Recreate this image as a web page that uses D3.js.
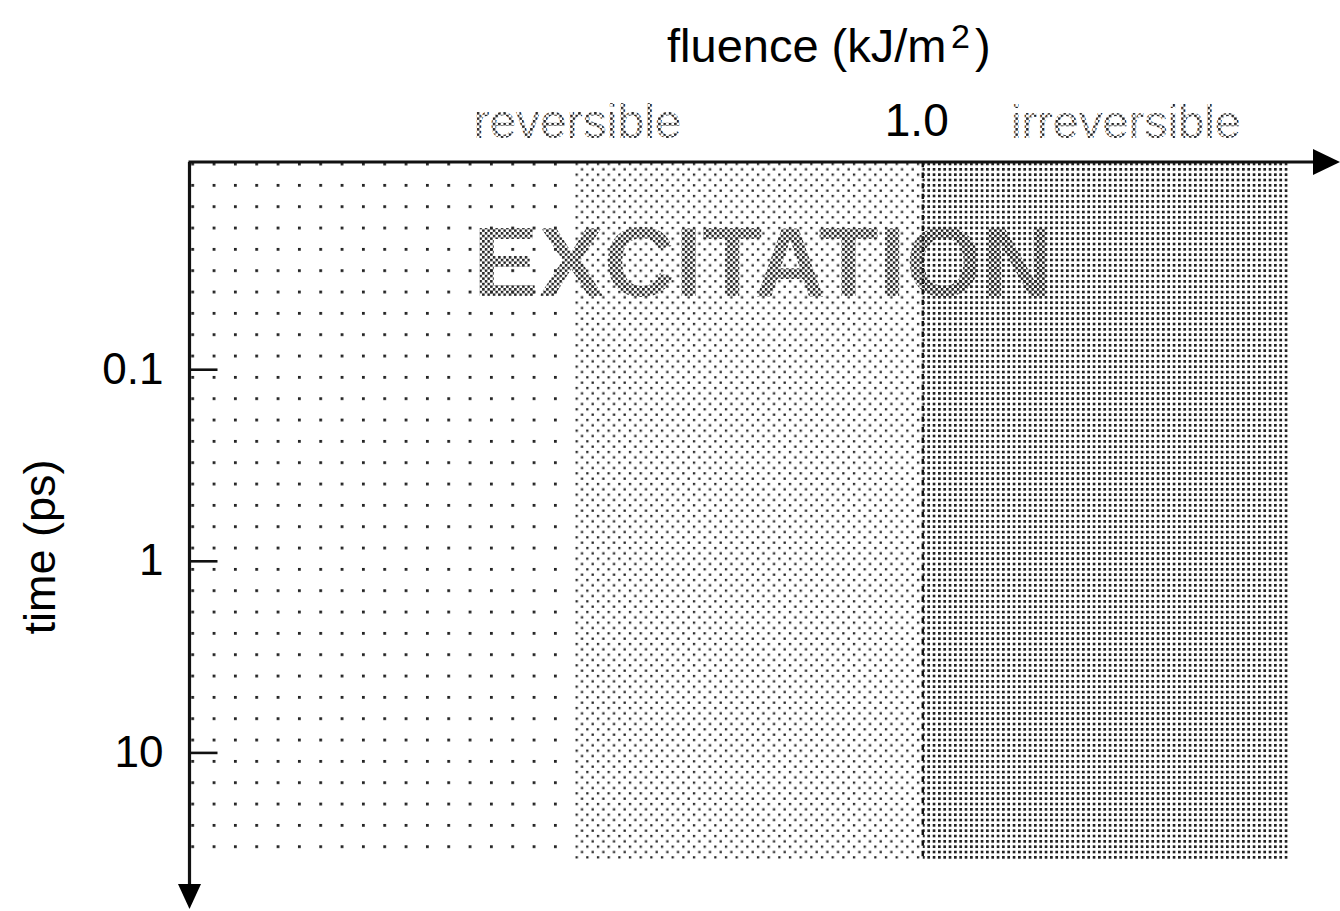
<!DOCTYPE html>
<html>
<head>
<meta charset="utf-8">
<script src="https://cdn.jsdelivr.net/npm/d3@7"></script>
<style>
  html, body { margin: 0; padding: 0; background: #ffffff; }
  svg { display: block; }
  text { font-family: "Liberation Sans", Arial, Helvetica, sans-serif; }
</style>
</head>
<body>
<svg id="chart" width="1340" height="911"></svg>
<script>
// ---- data ----
const timeTicks = [0.1, 1, 10];              // ps
const timeExtent = [0.00829, 36.0];          // ps, shaded area top..bottom
const fluenceExtent = [0, 1.569];            // kJ/m^2, axis start..arrow tip
const zoneEdges = [0, 0.525, 1.0, 1.5];      // kJ/m^2
const zoneNames = ["low", "reversible", "irreversible"];
const thresholdFluence = 1.0;
const thresholdLabel = "1.0";
const regimeLabels = ["reversible", "irreversible"];
const xTitleParts = ["fluence (kJ/m", "2", ")"];
const yTitle = "time (ps)";
const bannerText = "EXCITATION";

// ---- drawing ----
const svg = d3.select("#chart");
const W = 1340, H = 911;
svg.append("rect").attr("width", W).attr("height", H).attr("fill", "#fff");

const x = d3.scaleLinear().domain(fluenceExtent).range([189.5, 1340]);
const y = d3.scaleLog().domain(timeExtent).range([162, 859]);

const defs = svg.append("defs");
const P = 10.667 / 2;   // base lattice step
const ox = 576.7, oy = 164; // a lattice dot centre
function lattice(id, period, offsets, size, color) {
  const pat = defs.append("pattern")
    .attr("id", id)
    .attr("patternUnits", "userSpaceOnUse")
    .attr("x", ox - size / 2).attr("y", oy - size / 2)
    .attr("width", period).attr("height", period);
  offsets.forEach(([dx, dy]) => {
    pat.append("rect").attr("x", dx).attr("y", dy)
      .attr("width", size).attr("height", size).attr("fill", color);
  });
}
lattice("pat0", 4 * P, [[0, 0]], 2.8, "#222");
lattice("pat1", 2 * P, [[0, 0], [P, P]], 2.3, "#2a2a2a");
lattice("pat2", P, [[0, 0]], 2.7, "#222");
lattice("patText", P, [[0, 0], [P / 2, P / 2]], 2.5, "#222");

// shaded regimes
const zones = zoneNames.map((n, i) => ({ name: n, x0: zoneEdges[i], x1: zoneEdges[i + 1], i }));
svg.append("g").selectAll("rect").data(zones).join("rect")
  .attr("x", d => x(d.x0))
  .attr("y", y(timeExtent[0]))
  .attr("width", d => x(d.x1) - x(d.x0))
  .attr("height", y(timeExtent[1]) - y(timeExtent[0]))
  .attr("fill", d => `url(#pat${d.i})`);

// threshold dashed line
svg.append("line")
  .attr("x1", x(thresholdFluence)).attr("x2", x(thresholdFluence))
  .attr("y1", y(timeExtent[0])).attr("y2", y(timeExtent[1]))
  .attr("stroke", "#111").attr("stroke-width", 2.4)
  .attr("stroke-dasharray", "5.3,5.3");

// banner
svg.append("text")
  .attr("x", 763).attr("y", 296)
  .attr("text-anchor", "middle")
  .attr("font-size", 99).attr("font-weight", "bold")
  .attr("textLength", 580).attr("lengthAdjust", "spacingAndGlyphs")
  .attr("fill", "url(#patText)")
  .text(bannerText);

// regime labels
svg.append("text")
  .attr("x", x(zoneEdges[1]) + 3).attr("y", 138)
  .attr("text-anchor", "middle").attr("font-size", 48)
  .attr("fill", "url(#patText)")
  .text(regimeLabels[0]);
svg.append("text")
  .attr("x", 1011).attr("y", 138)
  .attr("text-anchor", "start").attr("font-size", 47)
  .attr("fill", "url(#patText)")
  .text(regimeLabels[1]);

// threshold label
svg.append("text")
  .attr("x", x(thresholdFluence) - 6).attr("y", 136)
  .attr("text-anchor", "middle").attr("font-size", 46)
  .attr("fill", "#000")
  .text(thresholdLabel);

// x title
const xt = svg.append("text").attr("y", 62).attr("fill", "#000");
xt.append("tspan").attr("x", 667).attr("font-size", 47).text(xTitleParts[0]);
xt.append("tspan").attr("x", 951).attr("y", 48).attr("font-size", 34).text(xTitleParts[1]);
xt.append("tspan").attr("x", 975).attr("y", 62).attr("font-size", 47).text(xTitleParts[2]);

// y axis ticks and labels
const yAxis = d3.axisLeft(y)
  .tickValues(timeTicks)
  .tickFormat(d => String(d))
  .tickSizeInner(-28).tickSizeOuter(0)
  .tickPadding(26);
const gy = svg.append("g").attr("transform", `translate(${x(fluenceExtent[0])},0)`).call(yAxis);
gy.select(".domain").remove();
gy.selectAll(".tick line").attr("stroke", "#111").attr("stroke-width", 2.6);
gy.selectAll(".tick text")
  .attr("font-size", 44).attr("fill", "#000")
  .attr("font-family", "'Liberation Sans', Arial, sans-serif");

// y title
svg.append("text")
  .attr("transform", "translate(55,547) rotate(-90)")
  .attr("text-anchor", "middle").attr("font-size", 45).attr("fill", "#000")
  .text(yTitle);

// axes lines with arrows
const x0 = x(fluenceExtent[0]), xEnd = x(fluenceExtent[1]);
const y0 = y(timeExtent[0]), yEnd = y(timeExtent[1]) + 50;
svg.append("line").attr("x1", x0 - 1).attr("x2", xEnd - 26).attr("y1", y0).attr("y2", y0)
  .attr("stroke", "#111").attr("stroke-width", 3.2);
svg.append("line").attr("x1", x0).attr("x2", x0).attr("y1", y0).attr("y2", yEnd - 24)
  .attr("stroke", "#111").attr("stroke-width", 3.2);
svg.append("path")
  .attr("d", `M${xEnd - 27},${y0 - 13} L${xEnd},${y0} L${xEnd - 27},${y0 + 13} Z`)
  .attr("fill", "#000");
svg.append("path")
  .attr("d", `M${x0 - 11.5},${yEnd - 25} L${x0},${yEnd} L${x0 + 11.5},${yEnd - 25} Z`)
  .attr("fill", "#000");
</script>
</body>
</html>
